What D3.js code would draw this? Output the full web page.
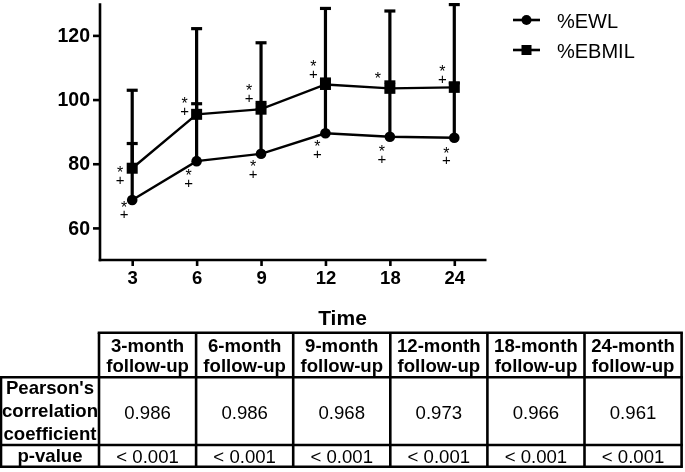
<!DOCTYPE html>
<html>
<head>
<meta charset="utf-8">
<script src="https://cdn.jsdelivr.net/npm/d3@7"></script>
<style>
  html, body { margin: 0; padding: 0; background: #fff; }
  svg { display: block; will-change: transform; }
  text { font-family: Arial, "Liberation Sans", sans-serif; fill: #000; }
</style>
</head>
<body>
<svg id="chart" width="685" height="472"></svg>
<script>
// ---------- data ----------
const timepoints = ["3", "6", "9", "12", "18", "24"];
const ewlMean = [68.7, 80.8, 83.1, 89.5, 88.4, 88.1];
const ewlUpper = [86.3, 98.7, 99.1, 106.4, 105.5, 105.2];     // mean + SD
const ebmilMean = [78.6, 95.4, 97.0, 104.7, 103.5, 103.8];
const ebmilUpper = [102.9, 122.1, 117.7, 128.4, 127.6, 129.6]; // mean + SD
const ewlMarks = ["*+", "*+", "*+", "*+", "*+", "*+"];
const ewlMarkValue = [67.5, 77.4, 80.1, 86.4, 84.9, 84.4];
const ebmilMarks = ["*+", "*+", "*+", "*+", "*", "*+"];
const ebmilMarkValue = [78.3, 99.8, 103.8, 111.3, 107.5, 109.7];
const yTicks = [60, 80, 100, 120];
const seriesNames = ["%EWL", "%EBMIL"];
const xTitle = "Time";

const tableHeaders = [["3-month", "follow-up"], ["6-month", "follow-up"], ["9-month", "follow-up"],
                      ["12-month", "follow-up"], ["18-month", "follow-up"], ["24-month", "follow-up"]];
const rowLabels = [["Pearson's", "correlation", "coefficient"], ["p-value"]];
const pearsonR = ["0.986", "0.986", "0.968", "0.973", "0.966", "0.961"];
const pValues = ["< 0.001", "< 0.001", "< 0.001", "< 0.001", "< 0.001", "< 0.001"];

// ---------- chart ----------
const svg = d3.select("#chart");
const x = d3.scalePoint().domain(timepoints).range([100, 486.5]).padding(0.5);
const y = d3.scaleLinear().domain([50, 130]).range([260, 3.3]);

// axes
const yAxis = svg.append("g").attr("transform", "translate(100,0)")
  .call(d3.axisLeft(y).tickValues(yTicks).tickSize(7).tickPadding(3).tickSizeOuter(0));
const xAxis = svg.append("g").attr("transform", "translate(0,260)")
  .call(d3.axisBottom(x).tickSize(6).tickPadding(5).tickSizeOuter(0));
[yAxis, xAxis].forEach(a => {
  a.select(".domain").attr("stroke", "#000").attr("stroke-width", 2.6);
  a.selectAll(".tick line").attr("stroke", "#000").attr("stroke-width", 2.6);
  a.selectAll(".tick text").attr("font-family", "Arial, 'Liberation Sans', sans-serif")
    .attr("font-weight", "bold").attr("fill", "#000");
});
yAxis.selectAll(".tick text").attr("font-size", 19.5);
xAxis.selectAll(".tick text").attr("font-size", 18.5);
// make axis domain lines meet at the corner
yAxis.select(".domain").attr("d", `M0,${y.range()[1]}V${y(50) + 1.3}`);
xAxis.select(".domain").attr("d", `M${100 - 1.3},0H${x.range()[1]}`);

svg.append("text").attr("x", 342.5).attr("y", 325).attr("text-anchor", "middle")
  .attr("font-size", 21).attr("font-weight", "bold").text(xTitle);

// error bars
function errorBars(mean, upper) {
  const g = svg.append("g");
  timepoints.forEach((t, i) => {
    g.append("line").attr("x1", x(t)).attr("x2", x(t)).attr("y1", y(mean[i])).attr("y2", y(upper[i]))
      .attr("stroke", "#000").attr("stroke-width", 3.2);
    g.append("line").attr("x1", x(t) - 5.5).attr("x2", x(t) + 5.5).attr("y1", y(upper[i])).attr("y2", y(upper[i]))
      .attr("stroke", "#000").attr("stroke-width", 3.2);
  });
}
errorBars(ebmilMean, ebmilUpper);
errorBars(ewlMean, ewlUpper);

// lines
const line = d3.line().x((d, i) => x(timepoints[i])).y(d => y(d));
[ewlMean, ebmilMean].forEach(s => {
  svg.append("path").datum(s).attr("d", line).attr("fill", "none")
    .attr("stroke", "#000").attr("stroke-width", 2.4);
});

// markers
svg.append("g").selectAll("circle").data(ewlMean).join("circle")
  .attr("cx", (d, i) => x(timepoints[i])).attr("cy", d => y(d)).attr("r", 5.3).attr("fill", "#000");
svg.append("g").selectAll("rect").data(ebmilMean).join("rect")
  .attr("x", (d, i) => x(timepoints[i]) - 5.5).attr("y", d => y(d) - 5.5)
  .attr("width", 11).attr("height", 11).attr("fill", "#000");

// significance marks (one text element per point, stacked glyphs)
function marks(symbols, values, dx) {
  const g = svg.append("g");
  timepoints.forEach((t, i) => {
    const chars = symbols[i].split("");
    const txt = g.append("text").attr("text-anchor", "middle").attr("fill", "#222");
    chars.forEach((c, k) => {
      const ts = txt.append("tspan").attr("x", x(t) + dx).text(c);
      if (k === 0) ts.attr("y", y(values[i]) + 9).attr("font-size", 16);
      else ts.attr("dy", 6.5).attr("font-size", 15);
    });
  });
}
marks(ebmilMarks, ebmilMarkValue, -12);
marks(ewlMarks, ewlMarkValue, -8);

// legend
const legend = svg.append("g");
seriesNames.forEach((name, i) => {
  const ly = 20 + i * 30;
  legend.append("line").attr("x1", 513).attr("x2", 540).attr("y1", ly).attr("y2", ly)
    .attr("stroke", "#000").attr("stroke-width", 2.6);
  if (i === 0) legend.append("circle").attr("cx", 526.5).attr("cy", ly).attr("r", 5).attr("fill", "#000");
  else legend.append("rect").attr("x", 521.5).attr("y", ly - 5).attr("width", 10).attr("height", 10).attr("fill", "#000");
  legend.append("text").attr("x", 557).attr("y", ly + 7.5).attr("font-size", 20).text(name);
});

// ---------- table ----------
const colX = [1, 99];
for (let i = 1; i <= 6; i++) colX.push(99 + i * 97.1);
const rowY = [332.7, 377.3, 445, 466.7];
const tg = svg.append("g");
function ln(x1, y1, x2, y2) {
  tg.append("line").attr("x1", x1).attr("y1", y1).attr("x2", x2).attr("y2", y2)
    .attr("stroke", "#000").attr("stroke-width", 2.6);
}
// horizontal lines
ln(colX[1] - 1.3, rowY[0], colX[7] + 1.3, rowY[0]);
rowY.slice(1).forEach(ry => ln(colX[0] - 1.3, ry, colX[7] + 1.3, ry));
// vertical lines
ln(colX[0], rowY[1], colX[0], rowY[3]);
colX.slice(1).forEach(cx => ln(cx, rowY[0], cx, rowY[3]));

// headers
tableHeaders.forEach((h, i) => {
  const cx = (colX[i + 1] + colX[i + 2]) / 2;
  h.forEach((t, k) => {
    tg.append("text").attr("x", cx).attr("y", 352 + k * 20).attr("text-anchor", "middle")
      .attr("font-size", 18.6).attr("font-weight", "bold").text(t);
  });
});
// row labels
const labCx = (colX[0] + colX[1]) / 2;
rowLabels[0].forEach((t, k) => {
  tg.append("text").attr("x", labCx).attr("y", 394 + k * 23).attr("text-anchor", "middle")
    .attr("font-size", 18.6).attr("font-weight", "bold").text(t);
});
tg.append("text").attr("x", labCx).attr("y", 462).attr("text-anchor", "middle")
  .attr("font-size", 18.6).attr("font-weight", "bold").text(rowLabels[1][0]);
// values
pearsonR.forEach((v, i) => {
  tg.append("text").attr("x", (colX[i + 1] + colX[i + 2]) / 2).attr("y", 418.5)
    .attr("text-anchor", "middle").attr("font-size", 18.6).text(v);
});
pValues.forEach((v, i) => {
  tg.append("text").attr("x", (colX[i + 1] + colX[i + 2]) / 2).attr("y", 462.5)
    .attr("text-anchor", "middle").attr("font-size", 18.6).text(v);
});
</script>
</body>
</html>
